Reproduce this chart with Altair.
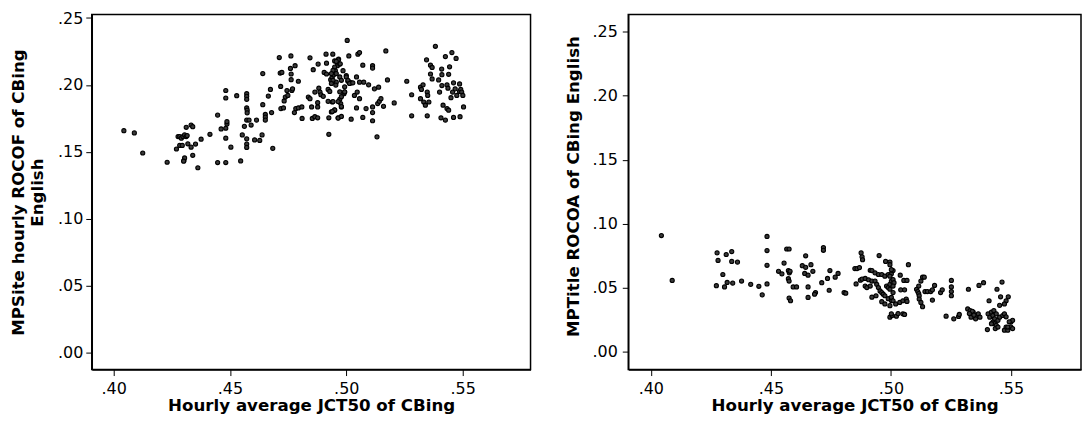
import altair as alt
import pandas as pd

# ---- Left panel: Hourly average JCT50 vs MPSite hourly ROCOF ----
left_x = [
    .4044, .4089, .4125, .4230, .4270, .4277, .4284, .4291, .4298, .4305, .4312, .4316,
    .4284, .4295, .4302, .4305, .4301, .4312, .4333, .4340, .4319, .4333, .4340, .4352,
    .4362, .4376, .4414, .4447, .4447, .4462, .4482, .4487, .4487, .4482, .4482, .4482,
    .4482, .4504, .4529, .4546, .4553, .4562, .4572, .4572, .4572, .4572, .4574, .4574,
    .4572, .4582, .4572, .4572, .4572, .4591, .4606, .4628, .4614, .4638, .4641, .4641,
    .4652, .4652, .4652, .4665, .4674, .4679, .4684, .4712, .4716, .4723, .4718, .4719,
    .4730, .4733, .4738, .4745, .4749, .4760, .4763, .4763, .4762, .4766, .4769, .4777,
    .4783, .4794, .4809, .4780, .4794, .4810, .4837, .4844, .4844, .4851, .4854, .4865,
    .4877, .4858, .4865, .4877, .4877, .4879, .4882, .4887, .4891, .4901, .4905, .4915,
    .4913, .4942, .4915, .4922, .4929, .4922, .4925, .4925, .4933, .4939, .4945, .4936,
    .4950, .4940, .4950, .4953, .4957, .4962, .4965, .4972, .4967, .4972, .4976, .4979,
    .4986, .4990, .4993, .5000, .5004, .5007, .5014, .5021, .5011, .5021, .5035, .5044,
    .5044, .5047, .5050, .5057, .5057, .5057, .5075, .5096, .5071, .5071, .5085, .5113,
    .5113, .5113, .5113, .5113, .5121, .5139, .5132, .5135, .5142, .5149, .5160, .5170,
    .5177, .5206, .5260, .5281, .5281, .5319, .5323, .5330, .5319, .5333, .5340, .5345,
    .5348, .5350, .5348, .5355, .5362, .5369, .5362, .5369, .5383, .5397, .5401, .5407,
    .5410, .5411, .5411, .5416, .5426, .5426, .5433, .5437, .5433, .5440, .5440, .5444,
    .5450, .5457, .5454, .5461, .5461, .5472, .5468, .5475, .5487, .5487, .5489, .5492,
    .5496, .5501, .5504,
    .4965, .4974, .4957, .4950, .4943, .4936, .4957, .4972, .4943, .4936, .4955, .4979,
    .5000, .5007, .5014, .5028, .4993, .4972, .4993, .4979, .4965, .4943, .4979, .4950,
    .4940, .4965, .4979,
]
left_y = [
    .1659, .1642, .1492, .1423, .1522, .1615, .1615, .1603, .1615, .1627, .1615, .1622,
    .1549, .1549, .1436, .1455, .1431, .1684, .1701, .1689, .1561, .1536, .1475, .1559,
    .1382, .1595, .1632, .1775, .1421, .1672, .1677, .1708, .1726, .1959, .1903, .1603,
    .1421, .1536, .1920, .1433, .1627, .1691, .1935, .1915, .1893, .1829, .1812, .1792,
    .1738, .1738, .1598, .1559, .1534, .1701, .1590, .1586, .1738, .1627, .1853, .2085,
    .1780, .1760, .1738, .1917, .1967, .1794, .1527, .2205, .2089, .2094, .1989, .1824,
    .1829, .1881, .1910, .1959, .1922, .2124, .2082, .2040, .2217, .1959, .1971, .1794,
    .1824, .1829, .1836, .2144, .2028, .1750, .1910, .1898, .2203, .1836, .1750, .1763,
    .1755, .2114, .1947, .1868, .1836, .2156, .1976, .1947, .1927, .1915, .2094, .2082,
    .2230, .2230, .2163, .1967, .1952, .1878, .1755, .1632, .2040, .2058, .2075, .1799,
    .1812, .1873, .2180, .2107, .2021, .2144, .1755, .2156, .2193, .1893, .1861, .1836,
    .2107, .1935, .1947, .2070, .2333, .2028, .2021, .2016, .2217, .1745, .1922, .2060,
    .1829, .1947, .2230, .2242, .1898, .2021, .2021, .2001, .2148, .1758, .1824, .2144,
    .2126, .1836, .1794, .1733, .1971, .1984, .1613, .1861, .1878, .1898, .1841, .2254,
    .2038, .1866, .2028, .1927, .1770, .1984, .1967, .2001, .1898, .1873, .1849, .2188,
    .1947, .1922, .1770, .1873, .2148, .2131, .2082, .2045, .2289, .2038, .1947, .1755,
    .2119, .2077, .1996, .1849, .2212, .1738, .2001, .1976, .1824, .1812, .2080, .2136,
    .1905, .1947, .2242, .2016, .1758, .2198, .1971, .1922, .2008, .1952, .1763, .1967,
    .1947, .1922, .1836,
    .2188, .2158, .2176, .2134, .2109, .2085, .2085, .2060, .2035, .2011, .1999, .2035,
    .2060, .2035, .2011, .2016, .1986, .1949, .1949, .1913, .1876, .1876, .1839, .1814,
    .1802, .1753, .1765,
]

# ---- Right panel: Hourly average JCT50 vs MPTitle ROCOA ----
right_x = [
    .4044, .4089, .4276, .4280, .4273, .4300, .4307, .4314, .4318, .4337, .4337, .4341,
    .4361, .4378, .4416, .4450, .4464, .4484, .4484, .4484, .4484,
    .4566, .4576, .4555, .4532, .4546, .4573, .4577, .4580, .4573, .4576, .4593, .4607,
    .4576, .4582, .4645, .4631, .4645, .4667, .4641, .4655, .4675, .4655, .4655, .4686,
    .4682, .4719, .4719, .4712, .4736, .4746, .4743, .4768, .4780, .4805, .4812,
    .4850, .4859, .4869, .4855, .4876, .4880, .4882, .4873, .4880, .4893, .4907, .4921,
    .4893, .4900, .4914, .4914, .4921, .4934, .4948, .4962, .4975, .4989, .5002, .5009,
    .4921, .4938, .4934, .4941, .4948, .4955, .4962, .4968, .4975, .4951, .4978, .4996,
    .4982, .4989, .4996, .5002, .5009, .5013, .4962, .4975, .4996, .4989, .5002, .4996,
    .5005, .5002, .4996, .5002, .4996, .5009, .4996, .5009, .5002, .5009, .5020, .5023,
    .5030, .5039, .5041, .5057, .5054, .5067, .5037, .5050, .5064, .5067, .5050, .5057,
    .5073,
    .5107, .5112, .5116, .5118, .5116, .5125, .5132, .5139, .5118, .5125, .5132, .5142,
    .5152, .5166, .5173, .5182, .5173, .5207, .5214, .5230, .5252, .5252, .5252, .5252,
    .5262, .5282, .5285,
    .5323, .5320, .5330, .5337, .5343, .5350, .5357, .5364, .5371, .5353, .5334, .5339,
    .5327, .5346, .5367, .5386, .5409, .5402, .5405, .5412, .5419, .5425, .5432, .5429,
    .5439, .5446, .5425, .5432, .5439, .5419, .5435, .5446, .5453, .5442, .5463, .5457,
    .5480, .5473, .5489, .5466, .5473, .5473, .5480, .5487, .5500, .5507, .5500, .5507,
    .5487, .5453, .5480, .5493,
]
right_y = [
    .0908, .0558, .0773, .0714, .0517, .0604, .0507, .0760, .0542, .0783, .0706, .0537,
    .0701, .0553, .0527, .0512, .0445, .0901, .0791, .0676, .0530,
    .0803, .0803, .0693, .0629, .0609, .0635, .0617, .0629, .0571, .0553, .0507, .0507,
    .0420, .0399, .0750, .0673, .0660, .0681, .0612, .0599, .0629, .0507, .0425, .0463,
    .0450, .0814, .0793, .0540, .0573, .0635, .0481, .0583, .0612, .0463, .0458,
    .0650, .0650, .0658, .0530, .0773, .0742, .0719, .0560, .0568, .0573, .0563, .0553,
    .0514, .0502, .0514, .0637, .0635, .0617, .0604, .0604, .0591, .0604, .0609, .0635,
    .0427, .0438, .0553, .0527, .0502, .0476, .0463, .0450, .0438, .0752, .0706, .0701,
    .0514, .0502, .0527, .0553, .0565, .0540, .0392, .0374, .0361, .0415, .0402, .0271,
    .0284, .0297, .0681, .0642, .0591, .0514, .0489, .0463, .0425, .0399, .0374, .0279,
    .0299, .0599, .0484, .0484, .0558, .0558, .0386, .0399, .0412, .0394, .0297, .0292,
    .0681,
    .0489, .0471, .0455, .0438, .0514, .0553, .0583, .0583, .0412, .0386, .0353, .0471,
    .0471, .0471, .0484, .0519, .0404, .0463, .0484, .0279, .0558, .0507, .0471, .0438,
    .0258, .0276, .0292,
    .0489, .0335, .0322, .0297, .0310, .0271, .0284, .0297, .0271, .0258, .0271, .0317,
    .0299, .0287, .0519, .0540, .0399, .0174, .0297, .0271, .0310, .0284, .0258, .0322,
    .0297, .0246, .0233, .0220, .0207, .0220, .0182, .0194, .0271, .0489, .0545, .0430,
    .0399, .0374, .0430, .0284, .0297, .0169, .0194, .0169, .0194, .0182, .0233, .0246,
    .0194, .0363, .0274, .0235,
]

x_ticks = [0.40, 0.45, 0.50, 0.55]
y_ticks = [0.00, 0.05, 0.10, 0.15, 0.20, 0.25]

df_left = pd.DataFrame({"jct": left_x, "val": left_y})
df_right = pd.DataFrame({"jct": right_x, "val": right_y})

label_expr = "substring(format(datum.value, '.2f'), 1)"

x_title = "Hourly average JCT50 of CBing"


def panel(df, y_title, y_domain, w, h, y_title_pad, y_label_pad, y_title_y=None):
    yaxis_kwargs = dict(values=y_ticks, labelExpr=label_expr, labelPadding=y_label_pad,
                        titlePadding=y_title_pad)
    if y_title_y is not None:
        yaxis_kwargs["titleY"] = y_title_y
    return alt.Chart(df).mark_point(
        filled=True, fill="#3a3a3a", stroke="black", strokeWidth=1.1, size=17, opacity=1
    ).encode(
        x=alt.X("jct:Q", title=x_title,
                scale=alt.Scale(domain=[0.3906, 0.5792], nice=False, zero=False),
                axis=alt.Axis(values=x_ticks, labelExpr=label_expr, labelPadding=5,
                              titlePadding=1)),
        y=alt.Y("val:Q", title=y_title,
                scale=alt.Scale(domain=y_domain, nice=False, zero=False),
                axis=alt.Axis(**yaxis_kwargs)),
    ).properties(width=w, height=h)


left = panel(df_left, ["MPSite hourly ROCOF of CBing", "English"],
             [-0.0125, 0.2526], 440, 356, 11, 3)
right = panel(df_right, "MPTitle ROCOA of CBing English",
              [-0.0138, 0.2633], 454, 356, 9, 5, 172)

chart = alt.hconcat(
    left, right, spacing=33,
    padding={"left": 2, "top": 0, "right": 0, "bottom": 0},
).configure_view(
    stroke="black", strokeWidth=1.5
).configure_axis(
    grid=False, domainColor="black", domainWidth=1.5, tickColor="black", tickWidth=1,
    tickSize=6, labelColor="black", titleColor="black",
    labelFont="DejaVu Sans", titleFont="DejaVu Sans",
    labelFontSize=16, titleFontSize=16.7, titleFontWeight="bold",
    labelFontWeight="normal"
)

chart.save("out.html", embed_options={"renderer": "svg", "actions": False})
